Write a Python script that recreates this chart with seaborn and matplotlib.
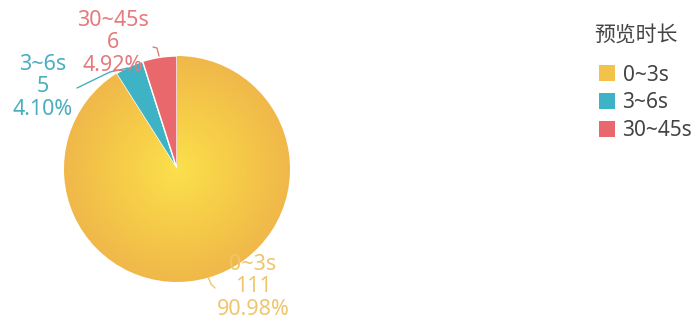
import numpy as np
import matplotlib
matplotlib.use("Agg")
import matplotlib.pyplot as plt
import seaborn as sns
from matplotlib.colors import LinearSegmentedColormap
from matplotlib.lines import Line2D
from matplotlib.patches import Patch

# Data
categories = ["0~3s", "3~6s", "30~45s"]
counts = [111, 5, 6]
percents = ["90.98%", "4.10%", "4.92%"]
legend_title = "预览时长"

sns.set_theme(style="white")
plt.rcParams["font.family"] = ["Noto Sans", "Noto Sans CJK SC", "DejaVu Sans"]

colors = ["#f3c24b", "#3fb3c6", "#e8686c"]
label_colors = ["#efc66e", "#4aaebe", "#e47a7c"]

W, H = 697, 325
fig = plt.figure(figsize=(W / 100, H / 100), dpi=100)
cx, cy, r = 177, 169, 113
ax = fig.add_axes([(cx - r) / W, (H - cy - r) / H, 2 * r / W, 2 * r / H])

wedges, _ = ax.pie(counts, colors=colors, startangle=90, counterclock=False,
                   radius=1, wedgeprops=dict(edgecolor="white", linewidth=1.0))
ax.set_xlim(-1, 1)
ax.set_ylim(-1, 1)
ax.set_aspect("equal")
ax.axis("off")

# radial gradient on the large slice
n = 400
g = np.linspace(-1, 1, n)
xx, yy = np.meshgrid(g, g)
rr = np.sqrt(xx ** 2 + yy ** 2)
cmap = LinearSegmentedColormap.from_list("sun", ["#fbe04c", "#f6cc48", "#f0b84a"])
im = ax.imshow(rr, cmap=cmap, vmin=0, vmax=1, extent=(-1, 1, -1, 1),
               origin="lower", zorder=wedges[0].get_zorder() + 0.1)
im.set_clip_path(wedges[0])

def px(x, y):
    return (x - cx) / r, (cy - y) / r

# value labels
label_pos = [(253, 287), (43, 87), (113, 43)]
for i, cat in enumerate(categories):
    x, y = px(*label_pos[i])
    ax.text(x, y, f"{cat}\n{counts[i]}\n{percents[i]}", color=label_colors[i],
            fontsize=15.5, ha="center", va="center", linespacing=1.12,
            clip_on=False, zorder=5)

# leader lines
leaders = [
    ([208.5, 211, 215], [278, 284, 288]),
    ([128, 110, 77], [68, 72, 88]),
    ([159, 157, 153], [56, 48, 47]),
]
for i, (xs, ys) in enumerate(leaders):
    pts = [px(a, b) for a, b in zip(xs, ys)]
    ax.add_line(Line2D([p[0] for p in pts], [p[1] for p in pts],
                       color=label_colors[i], lw=1.0, clip_on=False, zorder=4))

# legend title and entries
fig.text(594 / W, 1 - 35 / H, legend_title, fontsize=15, color="#444444",
         ha="left", va="center", family=["Noto Sans CJK SC", "DejaVu Sans"])
handles = [Patch(facecolor=c, edgecolor="none") for c in colors]
leg = fig.legend(handles, categories, loc="upper left",
                 bbox_to_anchor=(584 / W, 1 - 50 / H), frameon=False,
                 fontsize=15, handlelength=0.8, handleheight=0.8,
                 handletextpad=0.35, labelspacing=0.33, borderaxespad=0.3)
for t in leg.get_texts():
    t.set_color("#444444")

fig.savefig("out.png", dpi=100, facecolor="white")
